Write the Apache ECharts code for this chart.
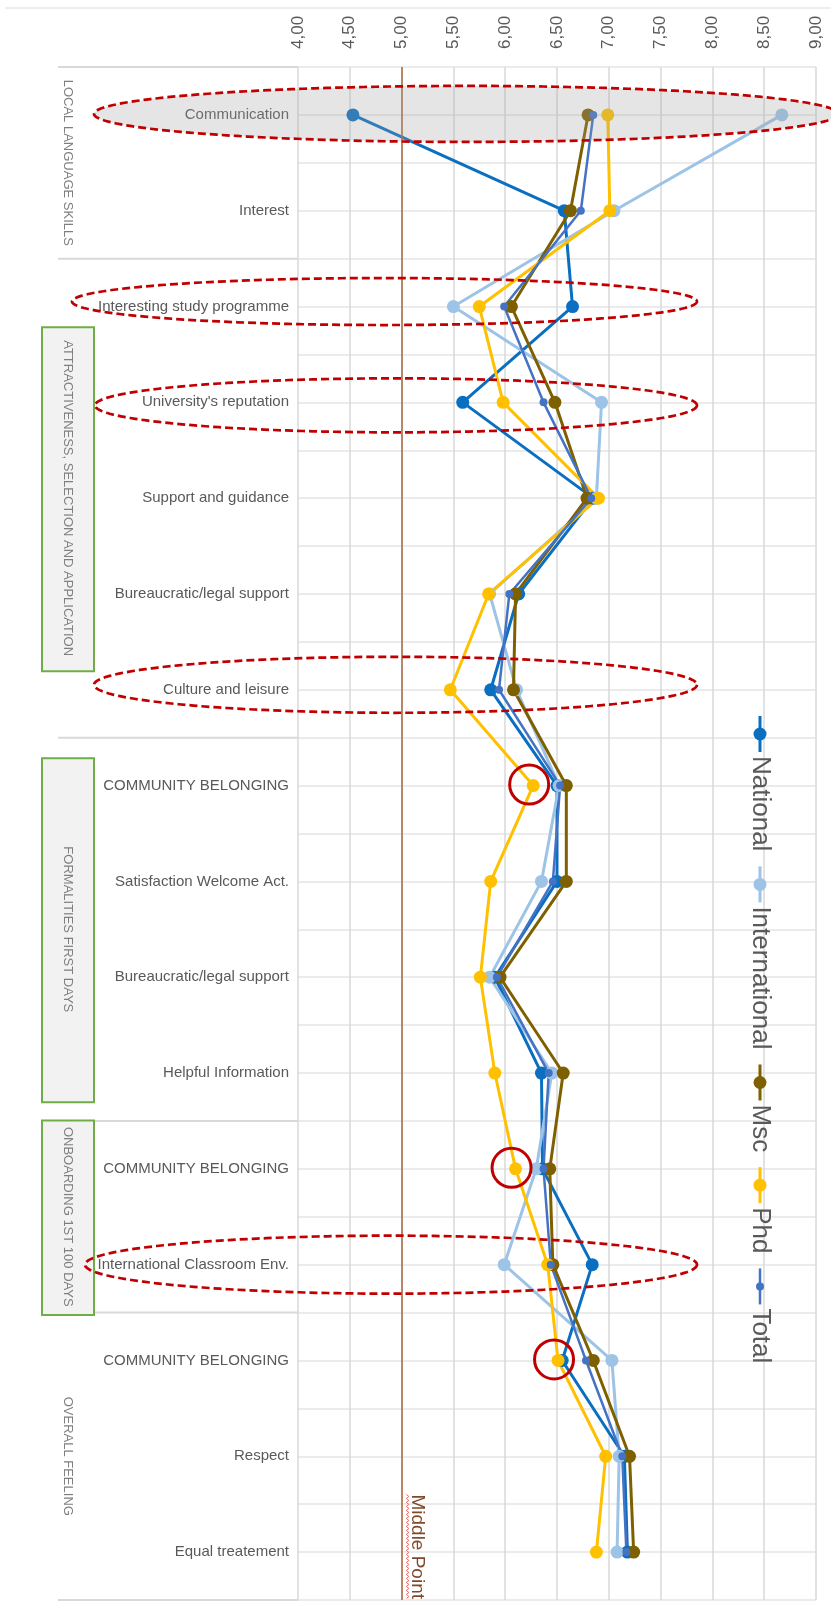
<!DOCTYPE html>
<html>
<head>
<meta charset="utf-8">
<script src="https://cdn.jsdelivr.net/npm/echarts@6/dist/echarts.min.js"></script>
<style>
html,body{margin:0;padding:0;background:#fff;}
#chart{width:831px;height:1602px;}
</style>
</head>
<body>
<div id="chart"></div>
<script>
const categories = ['Communication', 'Interest', 'Interesting study programme', "University's reputation",
  'Support and guidance', 'Bureaucratic/legal support', 'Culture and leisure', 'COMMUNITY BELONGING',
  'Satisfaction Welcome Act.', 'Bureaucratic/legal support', 'Helpful Information', 'COMMUNITY BELONGING',
  'International Classroom Env.', 'COMMUNITY BELONGING', 'Respect', 'Equal treatement'];

const seriesNames = ['National', 'International', 'Msc', 'Phd', 'Total'];
const national      = [4.53, 6.57, 6.65, 5.59, 6.85, 6.13, 5.86, 6.50, 6.50, 5.90, 6.35, 6.36, 6.84, 6.55, 7.15, 7.18];
const international = [8.67, 7.05, 5.50, 6.93, 6.88, 5.85, 6.11, 6.52, 6.35, 5.85, 6.45, 6.30, 5.99, 7.03, 7.10, 7.08];
const msc           = [6.80, 6.63, 6.06, 6.48, 6.79, 6.10, 6.08, 6.59, 6.59, 5.95, 6.56, 6.43, 6.46, 6.85, 7.20, 7.24];
const phd           = [6.99, 7.01, 5.75, 5.98, 6.90, 5.84, 5.47, 6.27, 5.86, 5.76, 5.90, 6.10, 6.41, 6.51, 6.97, 6.88];
const total         = [6.85, 6.73, 5.99, 6.37, 6.83, 6.04, 5.94, 6.53, 6.46, 5.92, 6.42, 6.37, 6.44, 6.78, 7.13, 7.17];

const axisMin = 4, axisMax = 9, axisStep = 0.5;
const middlePoint = 5;
const middleLabel = 'Middle Point';

const groupNames = ['LOCAL LANGUAGE SKILLS', 'ATTRACTIVENESS, SELECTION AND APPLICATION',
  'FORMALITIES FIRST DAYS', 'ONBOARDING 1ST 100 DAYS', 'OVERALL FEELING'];
const groupSizes = [2, 5, 4, 2, 3];
const groupBoxed = [false, true, true, true, false];

const ellipseRows = [0, 2, 3, 6, 12];
const circledPhdRows = [7, 11, 13];

const colors = ['#0b6fc1', '#9dc3e6', '#7f6000', '#ffc000', '#4472c4'];
const FONT = '"Liberation Sans", Arial, sans-serif';

const chart = echarts.init(document.getElementById('chart'), null, {renderer: 'canvas'});

const seriesData = [national, international, msc, phd, total];
const series = [{
  type: 'line', name: '_mid', data: [], silent: true,
  markLine: {
    silent: true, symbol: 'none', label: {show: false},
    lineStyle: {color: '#a9693f', width: 1.5, type: 'solid'},
    data: [{xAxis: middlePoint}]
  }
}];
seriesData.forEach((d, i) => {
  const isTotal = i === 4;
  series.push({
    type: 'line', name: seriesNames[i], data: d, yAxisIndex: 0,
    symbol: 'circle', symbolSize: isTotal ? 8 : 13,
    lineStyle: {color: colors[i], width: isTotal ? 2.5 : 3},
    itemStyle: {color: colors[i]},
    emphasis: {disabled: true}
  });
});

const halfBands = categories.flatMap(() => ['', '']);

chart.setOption({
  animation: false,
  grid: {left: 298, right: 15, top: 67, bottom: 2},
  xAxis: {
    type: 'value', position: 'top', min: axisMin, max: axisMax, interval: axisStep,
    axisLine: {show: false}, axisTick: {show: false},
    splitLine: {lineStyle: {color: '#d9d9d9', width: 1.5}},
    axisLabel: {
      rotate: -90, margin: 18, color: '#595959', fontSize: 17, fontFamily: FONT,
      formatter: v => v.toFixed(2).replace('.', ',')
    }
  },
  yAxis: [{
    type: 'category', data: categories, inverse: true, boundaryGap: true,
    axisLine: {show: false}, axisTick: {show: false}, splitLine: {show: false},
    axisLabel: {interval: 0, margin: 9, color: '#595959', fontSize: 15, fontFamily: FONT}
  }, {
    type: 'category', data: halfBands, inverse: true, boundaryGap: true, position: 'left',
    axisLine: {show: false}, axisTick: {show: false}, axisLabel: {show: false},
    splitLine: {show: true, interval: 0, lineStyle: {color: '#ebebeb', width: 2}}
  }],
  series: series
});

// ---------- annotations & custom rotated legend ----------
const px = v => chart.convertToPixel({xAxisIndex: 0}, v);
const py = i => chart.convertToPixel({yAxisIndex: 0}, i);
const band = py(1) - py(0);
const plotTop = py(0) - band / 2;
const plotBottom = py(categories.length - 1) + band / 2;
const plotLeft = px(axisMin);

const g = [];
g.push({type: 'line', shape: {x1: 5, y1: 8, x2: 831, y2: 8}, style: {stroke: '#dcdcdc', lineWidth: 1}, z: 1});

let acc = 0;
const bounds = [plotTop];
groupSizes.forEach(n => { acc += n; bounds.push(plotTop + acc * band); });
bounds.forEach(b => {
  g.push({type: 'line', shape: {x1: 58, y1: b, x2: plotLeft, y2: b}, style: {stroke: '#d9d9d9', lineWidth: 2}, z: 1});
});
groupNames.forEach((name, i) => {
  const y0 = bounds[i], y1 = bounds[i + 1];
  const cy = (y0 + y1) / 2;
  if (groupBoxed[i]) {
    const h = Math.min(344, y1 - y0 + 3);
    g.push({type: 'rect', shape: {x: 42, y: cy - h / 2 + 1, width: 52, height: h},
      style: {fill: '#f2f2f2', stroke: '#70ad47', lineWidth: 2}, z: 1});
  }
  g.push({type: 'text', x: 68, y: cy, rotation: -Math.PI / 2, z: 2,
    style: {text: name, font: '13px ' + FONT, fill: '#7f7f7f', textAlign: 'center', textVerticalAlign: 'middle',
      align: 'center', verticalAlign: 'middle'}});
});

const ellipseSpec = {
  0: {left: 94, right: 838, dy: -1, ry: 28, fill: 'rgba(160,160,160,0.27)'},
  2: {left: 72, right: 697, dy: -5, ry: 23.5},
  3: {left: 95, right: 697, dy: 3, ry: 27},
  6: {left: 94, right: 697, dy: -5, ry: 28},
  12: {left: 85, right: 697, dy: 0, ry: 29}
};
ellipseRows.forEach(r => {
  const s = ellipseSpec[r];
  const cx = (s.left + s.right) / 2, rx = (s.right - s.left) / 2, cy = py(r) + s.dy;
  const pts = [];
  for (let k = 0; k < 180; k++) {
    const a = k / 180 * Math.PI * 2;
    pts.push([cx + rx * Math.cos(a), cy + s.ry * Math.sin(a)]);
  }
  if (s.fill) {
    g.push({type: 'polygon', shape: {points: pts}, style: {fill: s.fill}, z: 50, silent: true});
  }
  g.push({type: 'polygon', shape: {points: pts},
    style: {fill: null, stroke: '#c00000', lineWidth: 2.7, lineDash: [8, 4]}, z: 60, silent: true});
});

circledPhdRows.forEach(r => {
  g.push({type: 'circle', shape: {cx: px(phd[r]) - 4, cy: py(r) - 1, r: 19.5},
    style: {fill: null, stroke: '#c00000', lineWidth: 3}, z: 60, silent: true});
});

const midX = px(middlePoint);
const midFont = '19px ' + FONT;
const mctx = document.createElement('canvas').getContext('2d');
mctx.font = midFont;
const midLen = mctx.measureText(middleLabel).width;
g.push({type: 'text', x: midX + 16, y: plotBottom - 1, rotation: -Math.PI / 2, z: 20,
  style: {text: middleLabel, font: midFont, fill: '#7e4a2a', textAlign: 'right', textVerticalAlign: 'middle',
    align: 'right', verticalAlign: 'middle'}});
const sq = [];
for (let y = plotBottom - 1 - midLen, k = 0; y <= plotBottom - 1; y += 2, k++) {
  sq.push([midX + 6 + (k % 2 ? 1.3 : -1.3), y]);
}
g.push({type: 'polyline', shape: {points: sq}, style: {stroke: '#f06a6a', lineWidth: 1, fill: null}, z: 20});

const legFont = '26px ' + FONT;
mctx.font = legFont;
let ly = 716;
const lx = 760;
seriesNames.forEach((name, i) => {
  const isTotal = i === 4;
  g.push({type: 'line', shape: {x1: lx, y1: ly, x2: lx, y2: ly + 36},
    style: {stroke: colors[i], lineWidth: isTotal ? 2.5 : 3}, z: 30});
  g.push({type: 'circle', shape: {cx: lx, cy: ly + 18, r: isTotal ? 4 : 6.5},
    style: {fill: colors[i]}, z: 31});
  const ts = ly + 40;
  g.push({type: 'text', x: lx, y: ts, rotation: -Math.PI / 2, z: 30,
    style: {text: name, font: legFont, fill: '#595959', textAlign: 'left', textVerticalAlign: 'middle',
      align: 'left', verticalAlign: 'middle'}});
  ly = ts + mctx.measureText(name).width + 15;
});

chart.setOption({graphic: {elements: g}});
</script>
</body>
</html>
